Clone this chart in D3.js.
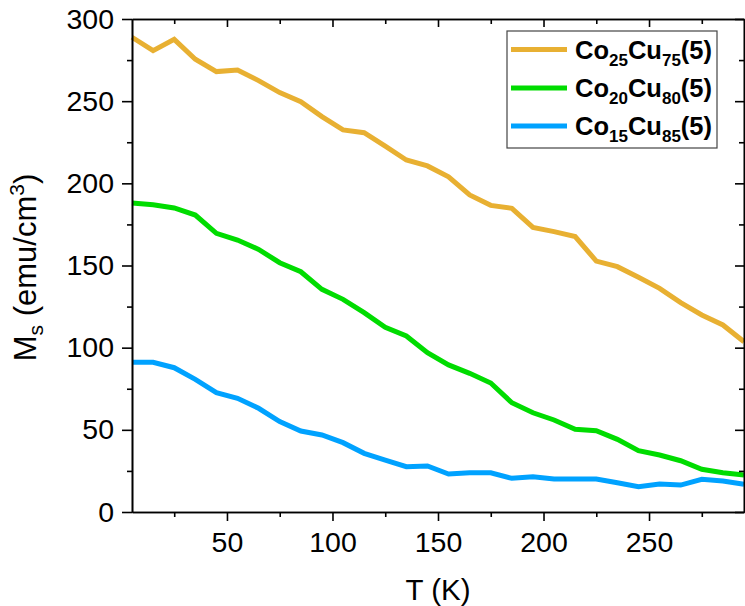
<!DOCTYPE html>
<html>
<head>
<meta charset="utf-8">
<script src="https://cdn.jsdelivr.net/npm/d3@7"></script>
<style>
  html, body { margin: 0; padding: 0; background: #fff; }
  svg { display: block; font-family: "Liberation Sans", Arial, sans-serif; }
</style>
</head>
<body>
<svg id="chart" width="745" height="606"></svg>
<script>
// ---- data ----
const temperatures = [5, 15, 25, 35, 45, 55, 65, 75, 85, 95, 105, 115, 125, 135, 145,
                      155, 165, 175, 185, 195, 205, 215, 225, 235, 245, 255, 265, 275, 285, 295];
const co25cu75 = [288.9, 280.7, 287.6, 275.5, 268.0, 269.0, 262.5, 255.2, 249.7, 240.6, 232.5, 230.8, 222.7, 214.2, 210.6,
                  204.0, 192.9, 186.6, 184.8, 173.2, 170.6, 167.6, 152.7, 149.3, 142.8, 136.1, 127.4, 119.9, 113.8, 103.6];
const co20cu80 = [188.0, 187.0, 185.0, 180.7, 169.6, 165.5, 159.8, 151.7, 146.2, 135.5, 129.4, 121.3, 112.4, 107.1, 96.9,
                  89.5, 84.4, 78.5, 66.5, 60.4, 56.0, 50.3, 49.5, 44.2, 37.3, 34.7, 31.2, 26.0, 23.9, 22.5];
const co15cu85 = [91.1, 91.1, 87.8, 80.7, 72.6, 69.2, 63.1, 55.0, 49.3, 46.9, 42.2, 35.7, 31.6, 27.6, 28.0,
                  23.1, 23.9, 23.9, 20.5, 21.5, 20.1, 20.1, 20.1, 17.8, 15.4, 17.0, 16.4, 19.9, 18.9, 16.9];
const seriesNames = [["Co", "25", "Cu", "75", "(5)"], ["Co", "20", "Cu", "80", "(5)"], ["Co", "15", "Cu", "85", "(5)"]];
const seriesColors = ["#E8B032", "#00DC00", "#00A2FF"];
const xTicks = [50, 100, 150, 200, 250];
const xMinorTicks = [25, 75, 125, 175, 225, 275];
const yTicks = [0, 50, 100, 150, 200, 250, 300];
const yMinorTicks = [25, 75, 125, 175, 225, 275];

const seriesValues = [co25cu75, co20cu80, co15cu85];

// ---- layout ----
const svg = d3.select("#chart");
const L = 132, R = 744, T = 19, B = 512;
const x = d3.scaleLinear().domain([5, 295]).range([L, R]);
const y = d3.scaleLinear().domain([0, 300]).range([B, T]);

const tickFont = 28.5;

// lines first (frame drawn over them)
const line = d3.line().x((d, i) => x(temperatures[i])).y(d => y(d));
const plot = svg.append("g");
seriesValues.forEach((vals, k) => {
  plot.append("path").datum(vals)
    .attr("d", line)
    .attr("fill", "none")
    .attr("stroke", seriesColors[k])
    .attr("stroke-width", 5)
    .attr("stroke-linejoin", "miter");
});

// bottom axis (outward)
svg.append("g").attr("transform", `translate(0,${B})`)
  .call(d3.axisBottom(x).tickValues(xTicks).tickSize(9).tickSizeOuter(0).tickPadding(11));
svg.append("g").attr("transform", `translate(0,${B})`)
  .call(d3.axisBottom(x).tickValues(xMinorTicks).tickSize(5).tickSizeOuter(0).tickFormat(""));
// top axis (inward)
svg.append("g").attr("transform", `translate(0,${T})`)
  .call(d3.axisTop(x).tickValues(xTicks).tickSize(-8).tickSizeOuter(0).tickFormat(""));
svg.append("g").attr("transform", `translate(0,${T})`)
  .call(d3.axisTop(x).tickValues(xMinorTicks).tickSize(-5).tickSizeOuter(0).tickFormat(""));
// left axis (outward)
svg.append("g").attr("transform", `translate(${L},0)`)
  .call(d3.axisLeft(y).tickValues(yTicks).tickSize(10).tickSizeOuter(0).tickPadding(8));
svg.append("g").attr("transform", `translate(${L},0)`)
  .call(d3.axisLeft(y).tickValues(yMinorTicks).tickSize(5).tickSizeOuter(0).tickFormat(""));
// right axis (inward)
svg.append("g").attr("transform", `translate(${R},0)`)
  .call(d3.axisRight(y).tickValues(yTicks).tickSize(-9).tickSizeOuter(0).tickFormat(""));
svg.append("g").attr("transform", `translate(${R},0)`)
  .call(d3.axisRight(y).tickValues(yMinorTicks).tickSize(-5).tickSizeOuter(0).tickFormat(""));

svg.selectAll(".domain").attr("stroke", "#000").attr("stroke-width", 1.6);
svg.selectAll(".tick line").attr("stroke", "#000").attr("stroke-width", 1.6);
svg.selectAll(".tick text").attr("font-size", tickFont).attr("fill", "#000")
   .attr("font-family", "Liberation Sans, Arial, sans-serif");

// legend
const lg = svg.append("g");
lg.append("rect").attr("x", 507).attr("y", 31).attr("width", 210).attr("height", 117)
  .attr("fill", "#fff").attr("stroke", "#444").attr("stroke-width", 1.2);
const legendY = [49.5, 88, 126];
seriesNames.forEach((parts, k) => {
  lg.append("line").attr("x1", 511).attr("x2", 567).attr("y1", legendY[k]).attr("y2", legendY[k])
    .attr("stroke", seriesColors[k]).attr("stroke-width", 5);
  const t = lg.append("text").attr("x", 575).attr("y", legendY[k] + 9)
    .attr("font-size", 25.5).attr("font-weight", "bold").attr("fill", "#000");
  t.append("tspan").text(parts[0]);
  t.append("tspan").text(parts[1]).attr("font-size", 17).attr("dy", 7);
  t.append("tspan").text(parts[2]).attr("dy", -7);
  t.append("tspan").text(parts[3]).attr("font-size", 17).attr("dy", 7);
  t.append("tspan").text(parts[4]).attr("dy", -7);
});

// axis titles
svg.append("text").attr("x", (L + R) / 2).attr("y", 600).attr("text-anchor", "middle")
  .attr("font-size", 29.5).attr("fill", "#000").text("T (K)");
const yt = svg.append("text").attr("transform", `translate(36,${(T + B) / 2 + 2}) rotate(-90)`)
  .attr("text-anchor", "middle").attr("font-size", 31).attr("fill", "#000");
yt.append("tspan").text("M");
yt.append("tspan").text("s").attr("font-size", 21).attr("dy", 7);
yt.append("tspan").text(" (emu/cm").attr("dy", -7);
yt.append("tspan").text("3").attr("font-size", 21).attr("dy", -12);
yt.append("tspan").text(")").attr("dy", 12);
</script>
</body>
</html>
